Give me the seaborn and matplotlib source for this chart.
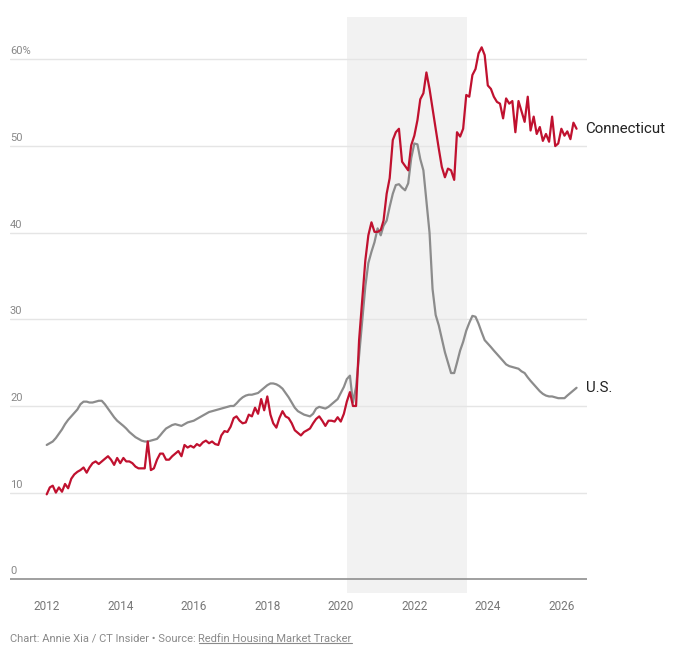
import matplotlib
matplotlib.use("Agg")
import matplotlib.pyplot as plt
import matplotlib.transforms as mtransforms
import seaborn as sns
import pandas as pd

# ---------------- data ----------------
start_month = "2012-01-01"

ct_share = [
    9.8, 10.6, 10.8, 10.0, 10.6, 10.1, 11.0, 10.5, 11.6, 12.1, 12.4, 12.6,
    12.9, 12.3, 12.9, 13.4, 13.6, 13.3, 13.6, 13.9, 14.2, 13.8, 13.2, 14.0,
    13.4, 14.0, 13.6, 13.6, 13.4, 13.0, 12.8, 12.8, 12.8, 15.9, 12.6, 12.8,
    13.8, 14.5, 14.5, 13.8, 13.8, 14.2, 14.5, 14.8, 14.2, 15.5, 15.2, 15.4,
    15.2, 15.6, 15.4, 15.8, 16.0, 15.7, 15.9, 15.6, 15.5, 16.6, 17.1, 17.0,
    17.6, 18.6, 18.8, 18.3, 18.0, 18.1, 19.0, 18.8, 19.8, 19.1, 20.8, 19.5,
    21.1, 19.0, 18.0, 17.5, 18.6, 19.4, 18.8, 18.6, 18.0, 17.2, 16.9, 16.6,
    17.0, 17.2, 17.4, 18.0, 18.5, 18.8, 18.3, 17.7, 18.3, 18.3, 18.2, 18.7,
    18.2, 19.1, 20.5, 21.6, 20.0, 20.0, 27.6, 32.2, 36.8, 39.7, 41.2, 40.1,
    40.1, 40.3, 41.4, 44.5, 46.3, 50.7, 51.6, 52.0, 48.2, 47.7, 47.2, 50.1,
    51.2, 53.0, 55.4, 56.1, 58.5, 56.6, 54.3, 52.0, 49.7, 47.6, 46.4, 47.4,
    47.2, 46.1, 51.6, 51.1, 52.0, 55.9, 55.7, 58.2, 58.9, 60.7, 61.4, 60.5,
    57.0, 56.6, 55.7, 55.1, 54.9, 53.2, 55.5, 54.9, 55.2, 51.6, 55.2, 54.0,
    52.8, 55.7, 51.8, 53.4, 51.4, 52.2, 50.6, 51.4, 50.5, 53.4, 50.0, 50.3,
    52.0, 51.2, 51.7, 50.8, 52.7, 52.0,
]

us_share = [
    15.5, 15.7, 15.9, 16.3, 16.8, 17.3, 17.9, 18.4, 18.8, 19.2, 19.6, 20.2,
    20.5, 20.5, 20.4, 20.4, 20.5, 20.6, 20.6, 20.2, 19.7, 19.2, 18.7, 18.3,
    18.0, 17.7, 17.4, 17.0, 16.7, 16.4, 16.2, 16.0, 15.9, 15.9, 16.0, 16.1,
    16.2, 16.6, 17.0, 17.4, 17.6, 17.8, 17.9, 17.8, 17.7, 17.9, 18.1, 18.2,
    18.3, 18.5, 18.7, 18.9, 19.1, 19.3, 19.4, 19.5, 19.6, 19.7, 19.8, 19.9,
    20.0, 20.0, 20.3, 20.7, 21.0, 21.2, 21.3, 21.3, 21.4, 21.5, 21.8, 22.1,
    22.4, 22.6, 22.6, 22.5, 22.3, 22.0, 21.5, 21.0, 20.4, 19.8, 19.4, 19.2,
    19.0, 18.9, 18.8, 19.1, 19.7, 19.9, 19.8, 19.7, 19.9, 20.2, 20.5, 20.8,
    21.5, 22.2, 23.1, 23.5, 20.4, 22.2, 25.8, 29.8, 33.8, 36.5, 37.8, 38.9,
    40.5, 39.7, 40.8, 41.4, 43.0, 44.5, 45.5, 45.6, 45.2, 44.9, 45.7, 48.6,
    50.3, 50.2, 48.5, 47.2, 43.7, 40.0, 33.5, 30.5, 29.3, 27.8, 26.2, 25.0,
    23.8, 23.8, 25.0, 26.4, 27.4, 28.7, 29.6, 30.4, 30.3, 29.5, 28.5, 27.6,
    27.2, 26.8, 26.4, 26.0, 25.6, 25.2, 24.8, 24.6, 24.5, 24.4, 24.3, 24.0,
    23.8, 23.3, 22.9, 22.5, 22.1, 21.7, 21.4, 21.2, 21.1, 21.1, 21.0, 20.9,
    20.9, 20.9, 21.2, 21.5, 21.8, 22.1,
]

series_names = ["Connecticut", "U.S."]
series_colors = {"Connecticut": "#c0112f", "U.S.": "#8c8c8c"}

shade_start = "2020-03-01"
shade_end = "2023-06-10"

y_gridlines = [10, 20, 30, 40, 50, 60]
y_labels = ["10", "20", "30", "40", "50", "60%"]
x_tick_years = [2012, 2014, 2016, 2018, 2020, 2022, 2024, 2026]

credit_text = "Chart: Annie Xia / CT Insider \u2022 Source: "
source_text = "Redfin Housing Market Tracker"

# ---------------- frame ----------------
months = pd.date_range(start_month, periods=len(ct_share), freq="MS")
df = pd.concat([
    pd.DataFrame({"date": months, "share": ct_share, "series": "Connecticut"}),
    pd.DataFrame({"date": months, "share": us_share, "series": "U.S."}),
], ignore_index=True)

sns.set_theme(style="white")
plt.rcParams["font.family"] = ["Roboto", "DejaVu Sans"]

fig = plt.figure(figsize=(6.79, 6.49), dpi=100)
ax = fig.add_axes([0.0147, 0.0868, 0.8494, 0.887])

ax.axvspan(pd.Timestamp(shade_start), pd.Timestamp(shade_end),
           color="#f2f2f2", zorder=0, lw=0)

for g in y_gridlines:
    ax.axhline(g, color="#e5e5e5", lw=1.0, zorder=1)
ax.axhline(0, color="#8f8f8f", lw=1.2, zorder=2)

sns.lineplot(data=df, x="date", y="share", hue="series",
             hue_order=["U.S.", "Connecticut"], palette=series_colors,
             lw=1.6, legend=False, ax=ax, zorder=3)

ax.set_xlim(pd.Timestamp("2011-01-01"), pd.Timestamp("2026-09-10"))
ax.set_ylim(-1.55, 64.9)

for s in ax.spines.values():
    s.set_visible(False)
ax.set_yticks([])
ax.set_xlabel("")
ax.set_ylabel("")
ax.set_xticks([pd.Timestamp(f"{y}-01-01") for y in x_tick_years])
ax.set_xticklabels([str(y) for y in x_tick_years])
ax.tick_params(axis="x", length=0, pad=5, labelsize=8.5, labelcolor="#777777")

# y labels sitting above gridlines
ytrans = mtransforms.offset_copy(ax.get_yaxis_transform(), fig=fig, x=0, y=3, units="dots")
for v, lab in zip([0] + y_gridlines, ["0"] + y_labels):
    ax.text(0.0, v, lab, transform=ytrans, ha="left", va="bottom",
            fontsize=8, color="#888888")

# end labels
lbl_trans = mtransforms.offset_copy(ax.transData, fig=fig, x=9, y=0, units="dots")
ax.text(months[-1], ct_share[-1], series_names[0], transform=lbl_trans,
        ha="left", va="center", fontsize=10.8, color="#222222", clip_on=False)
ax.text(months[-1], us_share[-1], series_names[1], transform=lbl_trans,
        ha="left", va="center", fontsize=10.8, color="#222222", clip_on=False)

# footer
t1 = fig.text(10 / 679, 1 - 639 / 649, credit_text, ha="left", va="center",
              fontsize=8, color="#8a8a8a")
fig.canvas.draw()
r = fig.canvas.get_renderer()
bb = t1.get_window_extent(renderer=r)
t2 = fig.text(bb.x1 / 679, 1 - 639 / 649, source_text, ha="left", va="center",
              fontsize=8, color="#8a8a8a")
fig.canvas.draw()
bb2 = t2.get_window_extent(renderer=r)
uy = (bb2.y0 + 1) / 649
fig.add_artist(plt.Line2D([bb2.x0 / 679, bb2.x1 / 679], [uy, uy],
                          transform=fig.transFigure, color="#8a8a8a", lw=0.8))

fig.savefig("out.png", dpi=100)
